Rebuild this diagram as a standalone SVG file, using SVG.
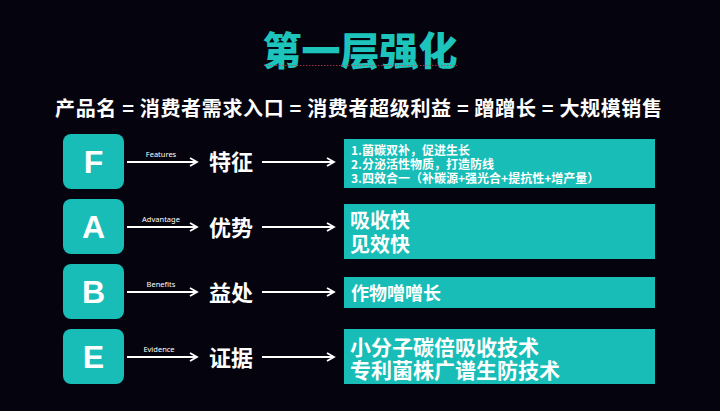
<svg xmlns="http://www.w3.org/2000/svg" width="720" height="411" viewBox="0 0 720 411">
<defs>
<style>
.cjk{font-family:"Noto Sans CJK SC","Noto Sans",sans-serif;font-weight:700;fill:#ffffff}
.letter{font-family:"Liberation Sans","Noto Sans",sans-serif;font-weight:700;fill:#ffffff;font-size:32px;text-anchor:middle}
.small{font-family:"Noto Sans","Liberation Sans",sans-serif;fill:#ffffff;font-size:7.5px;text-anchor:middle}
.key{fill:#17BDB6}
.panel{fill:#17BDB6}
.ln{stroke:#ffffff;stroke-width:2;fill:none}
</style>
<marker id="ah" markerWidth="10" markerHeight="10" refX="8" refY="5" orient="auto" markerUnits="userSpaceOnUse">
<path d="M1,1 L8,5 L1,9" fill="none" stroke="#ffffff" stroke-width="1.8"/>
</marker>
</defs>
<rect width="720" height="411" fill="#05040E"/>

<g id="title">
<text x="360" y="65" text-anchor="middle" style="font-family:'Noto Sans CJK SC',sans-serif;font-weight:900;font-size:39px;fill:#1CC4BC">第一层强化</text>
<line x1="264" y1="65.5" x2="457" y2="65.5" stroke="#c0404a" stroke-width="1" stroke-dasharray="1.5,1.5" opacity="0.8"/>
</g>
<g id="subtitle">
<text x="358.5" y="116" text-anchor="middle" class="cjk" font-size="20" textLength="607" lengthAdjust="spacing">产品名 = 消费者需求入口 = 消费者超级利益 = 蹭蹭长 = 大规模销售</text>
</g>

<g id="node-F">
<rect class="key" x="63" y="134" width="61" height="55" rx="8"/>
<text class="letter" x="93.5" y="173">F</text>
</g>
<g id="node-A">
<rect class="key" x="63" y="199" width="61" height="55" rx="8"/>
<text class="letter" x="93.5" y="238">A</text>
</g>
<g id="node-B">
<rect class="key" x="63" y="264" width="61" height="55" rx="8"/>
<text class="letter" x="93.5" y="303">B</text>
</g>
<g id="node-E">
<rect class="key" x="63" y="329" width="61" height="55" rx="8"/>
<text class="letter" x="93.5" y="368">E</text>
</g>

<g id="label-features"><text class="cjk" x="209" y="170" font-size="22">特征</text></g>
<g id="label-advantage"><text class="cjk" x="209" y="236" font-size="22">优势</text></g>
<g id="label-benefits"><text class="cjk" x="209" y="301" font-size="22">益处</text></g>
<g id="label-evidence"><text class="cjk" x="209" y="366" font-size="22">证据</text></g>

<g id="panel-F">
<rect class="panel" x="344" y="139" width="311" height="49"/>
<text class="cjk" x="351" y="155" font-size="12">1.菌碳双补，促进生长</text>
<text class="cjk" x="351" y="169" font-size="12">2.分泌活性物质，打造防线</text>
<text class="cjk" x="351" y="183" font-size="12">3.四效合一（补碳源+强光合+提抗性+增产量）</text>
</g>
<g id="panel-A">
<rect class="panel" x="344" y="204" width="311" height="55"/>
<text class="cjk" x="350" y="228" font-size="20">吸收快</text>
<text class="cjk" x="350" y="252" font-size="20">见效快</text>
</g>
<g id="panel-B">
<rect class="panel" x="344" y="277" width="311" height="31"/>
<text class="cjk" x="351" y="300" font-size="18">作物噌噌长</text>
</g>
<g id="panel-E">
<rect class="panel" x="344" y="329" width="311" height="55"/>
<text class="cjk" x="350" y="355" font-size="21">小分子碳倍吸收技术</text>
<text class="cjk" x="350" y="378" font-size="21">专利菌株广谱生防技术</text>
</g>

<g id="connectors">
<line class="ln" x1="127" y1="162" x2="197" y2="162" marker-end="url(#ah)"/>
<text class="small" x="161" y="157">Features</text>
<line class="ln" x1="262" y1="162" x2="334" y2="162" marker-end="url(#ah)"/>

<line class="ln" x1="127" y1="227" x2="197" y2="227" marker-end="url(#ah)"/>
<text class="small" x="161" y="222">Advantage</text>
<line class="ln" x1="262" y1="227" x2="334" y2="227" marker-end="url(#ah)"/>

<line class="ln" x1="127" y1="292" x2="197" y2="292" marker-end="url(#ah)"/>
<text class="small" x="161" y="287">Benefits</text>
<line class="ln" x1="262" y1="292" x2="334" y2="292" marker-end="url(#ah)"/>

<line class="ln" x1="127" y1="357" x2="197" y2="357" marker-end="url(#ah)"/>
<text class="small" x="159" y="352">Evidence</text>
<line class="ln" x1="262" y1="357" x2="334" y2="357" marker-end="url(#ah)"/>
</g>
</svg>
